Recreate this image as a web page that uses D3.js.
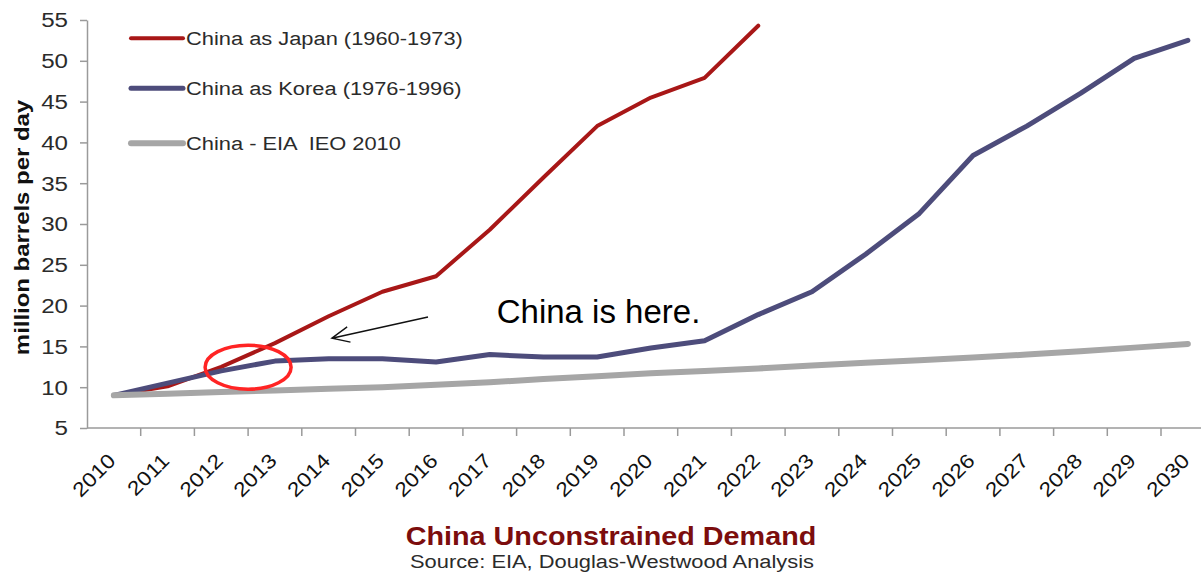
<!DOCTYPE html>
<html>
<head>
<meta charset="utf-8">
<script src="https://cdn.jsdelivr.net/npm/d3@7"></script>
<style>
  html, body { margin: 0; padding: 0; background: #fff; }
  svg { display: block; font-family: "Liberation Sans", Arial, sans-serif; }
</style>
</head>
<body>
<svg id="chart" width="1201" height="577"></svg>
<script>
// ---- data ----
const categories = ["2010","2011","2012","2013","2014","2015","2016","2017","2018","2019","2020",
                    "2021","2022","2023","2024","2025","2026","2027","2028","2029","2030"];
const japan = [9.0, 10.1, 12.5, 15.4, 18.7, 21.7, 23.6, 29.3, 35.7, 42.0, 45.5, 47.9, 54.3];
const korea = [9.0, 10.5, 12.0, 13.2, 13.5, 13.5, 13.1, 14.0, 13.7, 13.7, 14.8, 15.7, 18.9,
               21.7, 26.3, 31.3, 38.4, 42.0, 46.0, 50.3, 52.5];
const eia   = [9.0, 9.2, 9.4, 9.6, 9.8, 10.0, 10.3, 10.6, 11.0, 11.35, 11.7, 12.0, 12.3,
               12.65, 13.0, 13.3, 13.65, 14.0, 14.4, 14.85, 15.3];
const yTicks = [5, 10, 15, 20, 25, 30, 35, 40, 45, 50, 55];
const seriesNames = ["China as Japan (1960-1973)", "China as Korea (1976-1996)", "China - EIA  IEO 2010"];
const yTitle = "million barrels per day";
const title = "China Unconstrained Demand";
const source = "Source: EIA, Douglas-Westwood Analysis";
const calloutText = "China is here.";

// ---- layout ----
const W = 1201, H = 577;
const plotLeft = 87, plotTop = 20, plotBottom = 428, band = 53.7;
const stretch = 1.15;
const colors = ["#a81717", "#4d4c7b", "#a6a6a6"];
const widths = [4, 5, 6];

const svg = d3.select("#chart");
const x = d3.scaleBand().domain(categories).range([plotLeft, plotLeft + band * categories.length]).padding(0);
const cx = c => x(c) + x.bandwidth() / 2;
const xi = i => plotLeft + x.bandwidth() * (i + 0.5); // fractional category index
const y = d3.scaleLinear().domain([5, 55]).range([plotBottom, plotTop]);

const axisColor = "#9a9a9a";
const textColor = "#2b2b2b";

// y axis
const gy = svg.append("g").attr("transform", `translate(${plotLeft},0)`)
  .call(d3.axisLeft(y).tickValues(yTicks).tickSize(7).tickSizeOuter(0));
gy.select(".domain").attr("stroke", axisColor).attr("stroke-width", 1.5);
gy.selectAll(".tick line").attr("stroke", axisColor).attr("stroke-width", 1.5);
gy.selectAll(".tick text")
  .attr("x", null).attr("dy", null)
  .attr("transform", `translate(-19,0) scale(${stretch},1)`)
  .attr("dominant-baseline", "central")
  .attr("fill", textColor).attr("font-size", 21)
  .attr("font-family", "'Liberation Sans', Arial, sans-serif");

// x axis line + boundary ticks
const gx = svg.append("g");
gx.append("line").attr("x1", plotLeft).attr("x2", W).attr("y1", plotBottom).attr("y2", plotBottom)
  .attr("stroke", axisColor).attr("stroke-width", 1.5);
const bounds = categories.map(c => x(c)).concat([x(categories[categories.length - 1]) + x.bandwidth()]);
gx.selectAll("line.tk").data(bounds.slice(1)).enter().append("line").attr("class", "tk")
  .attr("x1", d => d).attr("x2", d => d).attr("y1", plotBottom).attr("y2", plotBottom + 8)
  .attr("stroke", axisColor).attr("stroke-width", 1.5);
gx.selectAll("text").data(categories).enter().append("text")
  .attr("transform", d => `translate(${cx(d) + 3},${plotBottom + 34}) rotate(-45) scale(${stretch},1)`)
  .attr("text-anchor", "end").attr("font-size", 20).attr("fill", "#111")
  .text(d => d);

// lines
const line = d3.line().x((d, i) => cx(categories[i])).y(d => y(d));
const series = [japan, korea, eia];
series.forEach((s, k) => {
  svg.append("path").datum(s).attr("d", line)
    .attr("fill", "none").attr("stroke", colors[k]).attr("stroke-width", widths[k])
    .attr("stroke-linejoin", "round").attr("stroke-linecap", "round");
});

// legend
const legendY = [38.3, 88.3, 143.3];
seriesNames.forEach((n, k) => {
  svg.append("line").attr("x1", 131).attr("x2", 183).attr("y1", legendY[k]).attr("y2", legendY[k])
    .attr("stroke", colors[k]).attr("stroke-width", widths[k]).attr("stroke-linecap", "round");
  svg.append("text").attr("transform", `translate(186,${legendY[k]}) scale(${stretch},1)`)
    .attr("dominant-baseline", "central").attr("font-size", 19).attr("fill", textColor)
    .style("white-space", "pre").text(n);
});

// y title
svg.append("text")
  .attr("transform", `translate(28.5,${(100 + 355) / 2}) rotate(-90) scale(1.14,1)`)
  .attr("text-anchor", "middle").attr("font-size", 21).attr("font-weight", "bold")
  .attr("fill", "#111").text(yTitle);

// title + source
svg.append("text").attr("transform", `translate(611,545) scale(${stretch},1)`)
  .attr("text-anchor", "middle").attr("font-size", 25).attr("font-weight", "bold")
  .attr("fill", "#7c0d0d").text(title);
svg.append("text").attr("transform", `translate(612,568) scale(${stretch},1)`)
  .attr("text-anchor", "middle").attr("font-size", 19).attr("fill", textColor).text(source);

// annotation: ellipse, arrow, text
const ell = { i: 2.5, v: 12.45 };
svg.append("ellipse").attr("cx", xi(ell.i)).attr("cy", y(ell.v)).attr("rx", 43).attr("ry", 22)
  .attr("fill", "none").attr("stroke", "#ff2424").attr("stroke-width", 3.5);

const tail = { i: 5.85, v: 18.6 }, tip = { i: 4.06, v: 16.0 };
const tx = xi(tip.i), ty = y(tip.v), sx = xi(tail.i), sy = y(tail.v);
const ang = Math.atan2(sy - ty, sx - tx);
const al = 19, aw = 0.42;
svg.append("path")
  .attr("d", `M${sx},${sy}L${tx},${ty}M${tx + al * Math.cos(ang - aw)},${ty + al * Math.sin(ang - aw)}L${tx},${ty}L${tx + al * Math.cos(ang + aw)},${ty + al * Math.sin(ang + aw)}`)
  .attr("fill", "none").attr("stroke", "#111").attr("stroke-width", 1.4);

svg.append("text").attr("x", xi(7.13)).attr("y", y(17.9))
  .attr("font-size", 33).attr("fill", "#000").text(calloutText);
</script>
</body>
</html>
